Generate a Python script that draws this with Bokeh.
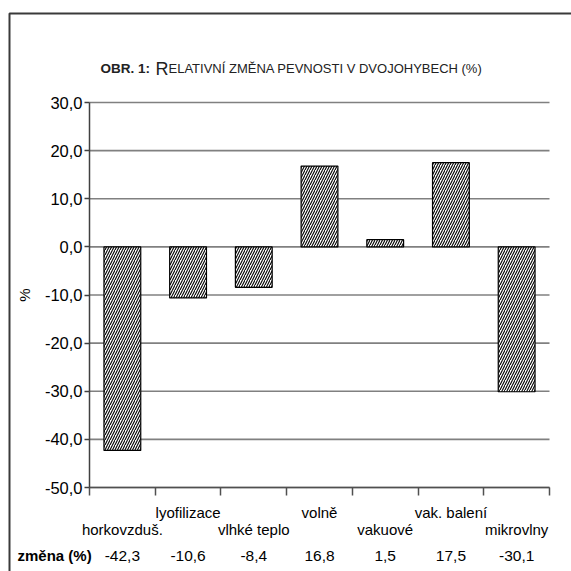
from bokeh.plotting import figure
from bokeh.models import ColumnDataSource, FixedTicker, Range1d
from bokeh.core.properties import value
from bokeh.embed import file_html
from bokeh.resources import INLINE

# ---- data ----
categories = ["horkovzduš.", "lyofilizace", "vlhké teplo", "volně", "vakuové", "vak. balení", "mikrovlny"]
changes = [-42.3, -10.6, -8.4, 16.8, 1.5, 17.5, -30.1]
y_ticks = [-50, -40, -30, -20, -10, 0, 10, 20, 30]
row_label = "změna (%)"
title_parts = ["OBR. 1:", "R", "ELATIVNÍ ZMĚNA PEVNOSTI V DVOJOHYBECH (%)"]

def fmt(v):
    return f"{v:.1f}".replace(".", ",")

n = len(categories)
centers = [i + 0.5 for i in range(n)]

# ---- geometry helpers (pixel -> data) ----
L, R, T, B = 89, 549, 102, 487
W, H = 571, 571
X0, X1, Y0, Y1 = 0, n, -50, 30
def dx(px):
    return X0 + (px - L) * (X1 - X0) / (R - L)
def dy(py):
    return Y1 - (py - T) * (Y1 - Y0) / (B - T)

p = figure(width=W, height=H, output_backend="svg", toolbar_location=None,
           x_range=Range1d(dx(0), dx(W)), y_range=Range1d(dy(H), dy(0)),
           min_border=0)
p.outline_line_color = None
p.background_fill_color = "white"
p.border_fill_color = "white"
p.xgrid.grid_line_color = None
p.ygrid.grid_line_color = None

SANS = "Liberation Sans"

# horizontal gridlines across the plot area
p.segment(x0=[X0] * len(y_ticks), x1=[X1] * len(y_ticks), y0=y_ticks, y1=y_ticks,
          line_color="#808080", line_width=1.6)

# bars
src = ColumnDataSource(dict(x=centers, top=changes, val=[fmt(v) for v in changes]))
p.vbar(x="x", top="top", bottom=0, width=0.56, source=src,
       fill_color="white", line_color="black", line_width=1.2,
       hatch_pattern="/", hatch_color="black", hatch_scale=5, hatch_weight=1.1)

# y axis at the plot's left edge
yax = p.yaxis[0]
yax.fixed_location = X0
yax.bounds = (Y0, Y1)
yax.ticker = FixedTicker(ticks=y_ticks)
yax.major_label_overrides = {t: fmt(t) for t in y_ticks}
yax.major_tick_out = 5
yax.major_tick_in = 0
yax.minor_tick_line_color = None
yax.axis_line_color = "#404040"
yax.axis_line_width = 1.5
yax.major_tick_line_color = "#404040"
yax.major_tick_line_width = 1.5
yax.major_label_text_font = SANS
yax.major_label_text_font_size = "16.5px"
yax.major_label_text_color = "black"
yax.major_label_standoff = 2
yax.axis_label = "%"
yax.axis_label_text_font = SANS
yax.axis_label_text_font_style = "normal"
yax.axis_label_text_font_size = "15px"
yax.axis_label_text_color = "black"
yax.axis_label_standoff = 9

# x axis at the plot's bottom edge: ticks at category boundaries
xax = p.xaxis[0]
xax.fixed_location = Y0
xax.bounds = (X0, X1)
xax.ticker = FixedTicker(ticks=list(range(n + 1)))
xax.major_label_overrides = {i: "" for i in range(n + 1)}
xax.major_tick_out = 8
xax.major_tick_in = 0
xax.minor_tick_line_color = None
xax.axis_line_color = "#505050"
xax.axis_line_width = 1.5
xax.major_tick_line_color = "#505050"
xax.major_tick_line_width = 1.5

# staggered category labels
p.text(x=centers[0::2], y=[dy(529)] * len(centers[0::2]), text=categories[0::2],
       text_align="center", text_baseline="alphabetic", text_font=value(SANS),
       text_font_size="15px", text_color="black")
p.text(x=centers[1::2], y=[dy(512)] * len(centers[1::2]), text=categories[1::2],
       text_align="center", text_baseline="alphabetic", text_font=value(SANS),
       text_font_size="15px", text_color="black")

# value row
p.text(x="x", y=dy(555), text="val", source=src, text_align="center",
       text_baseline="alphabetic", text_font=value(SANS),
       text_font_size="15.5px", text_color="black")
p.text(x=[dx(17)], y=[dy(555)], text=[row_label], text_align="left",
       text_baseline="alphabetic", text_font=value(SANS), text_font_style="bold",
       text_font_size="15px", text_color="black")

# title (small caps imitation)
p.text(x=[dx(100)], y=[dy(68)], text=[title_parts[0]], text_align="left",
       text_baseline="alphabetic", text_font=value(SANS), text_font_style="bold",
       text_font_size="13.5px", text_color="#222222")
p.text(x=[dx(155)], y=[dy(68)], text=[title_parts[1]], text_align="left",
       text_baseline="alphabetic", text_font=value(SANS),
       text_font_size="18px", text_color="#222222")
p.text(x=[dx(168)], y=[dy(68)], text=[title_parts[2]], text_align="left",
       text_baseline="alphabetic", text_font=value(SANS),
       text_font_size="13px", text_color="#222222")

# outer frame (top and left edges visible)
p.line(x=[dx(9), dx(9), dx(W + 20)], y=[dy(H + 20), dy(13), dy(13)],
       line_color="#3a3a3a", line_width=2)

open("out.html", "w").write(file_html(p, INLINE))
